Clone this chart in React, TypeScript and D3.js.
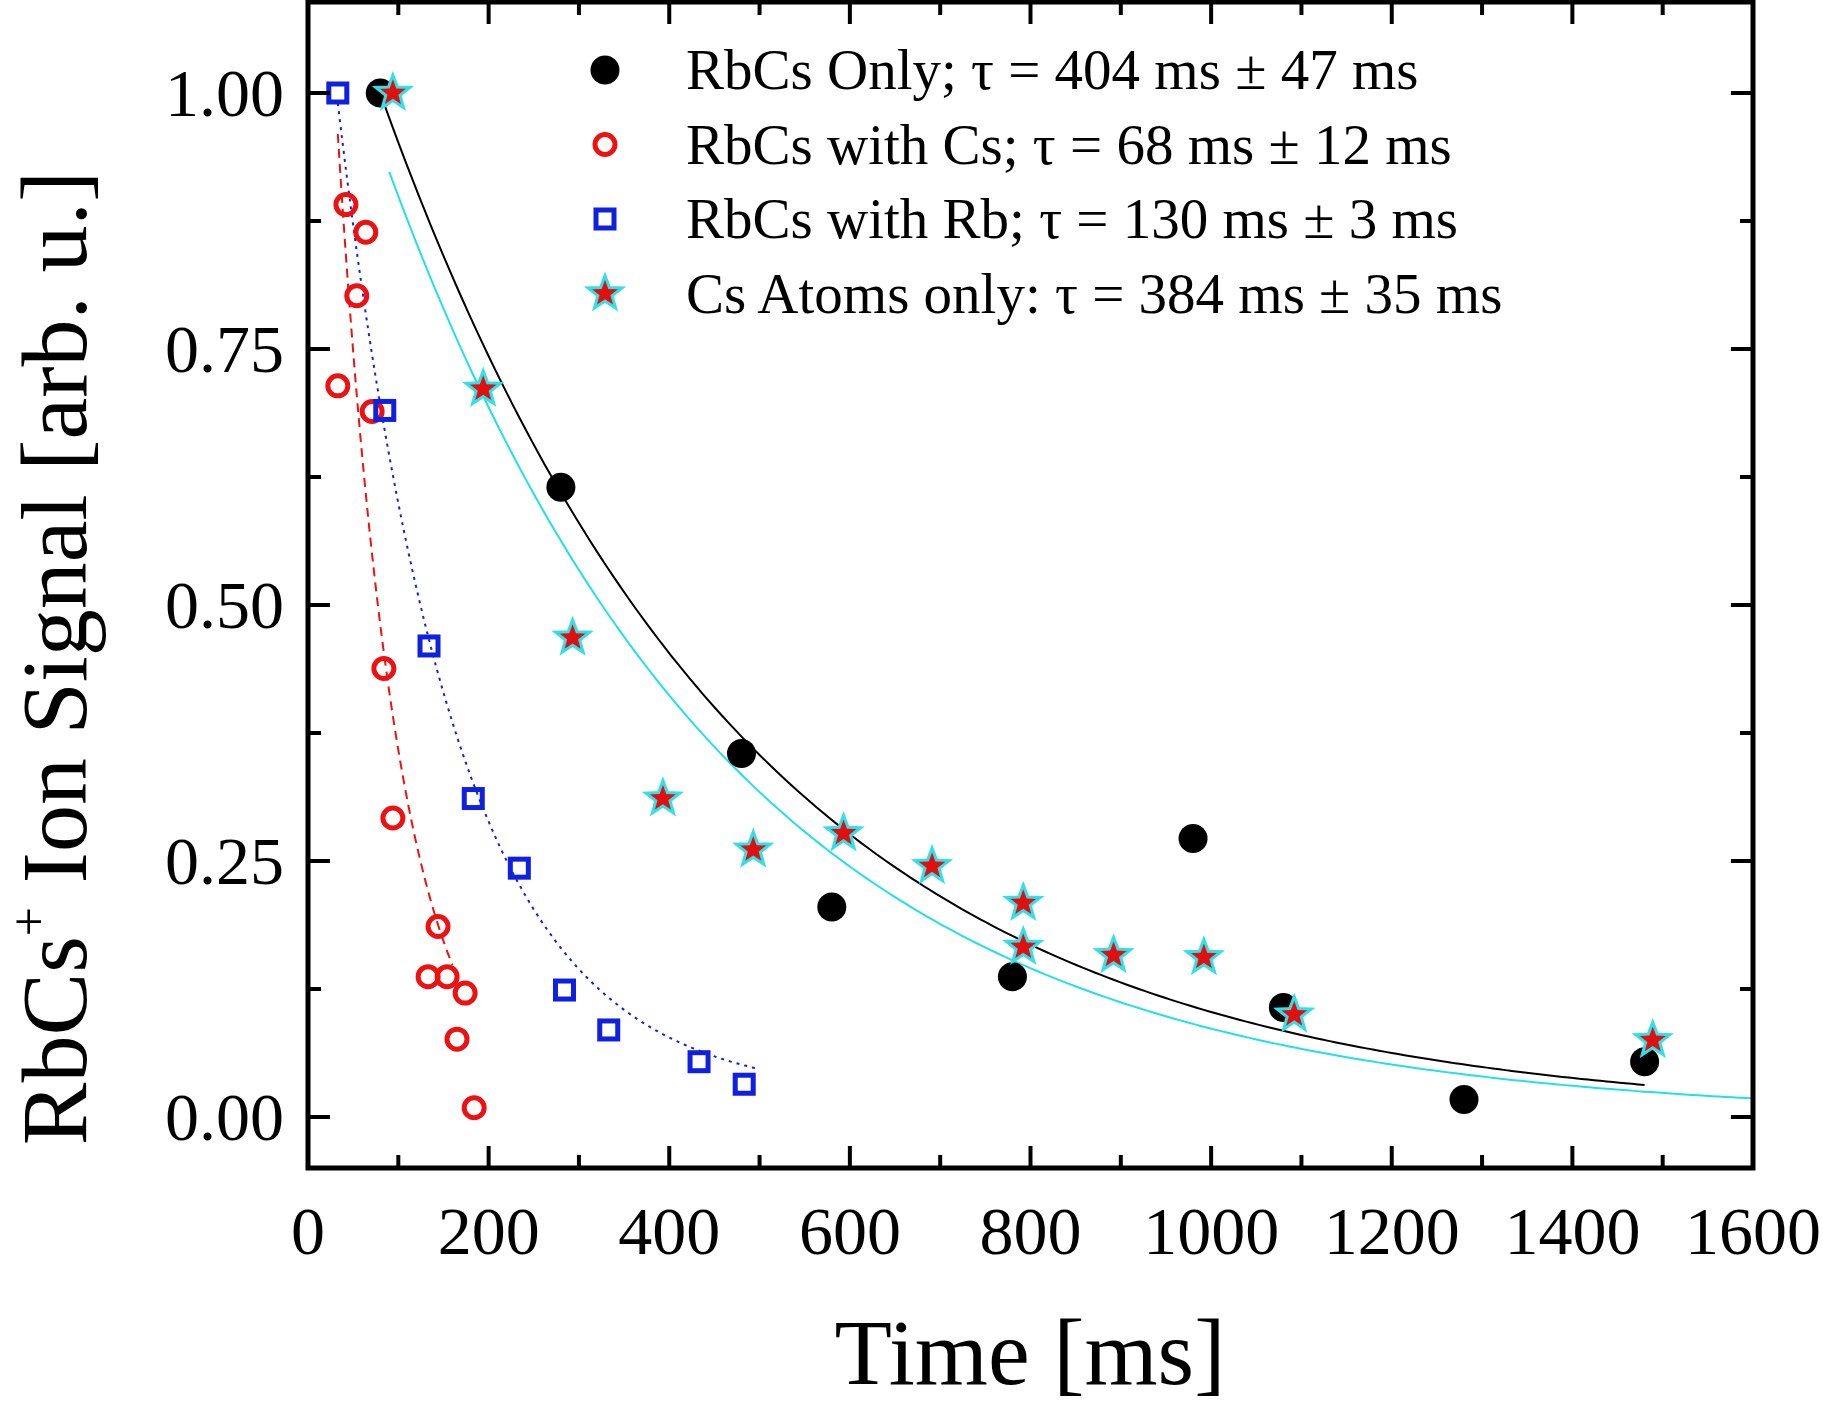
import React from "react";
import * as d3 from "d3";

const rbcsOnlyT = [80, 280, 480, 580, 780, 980, 1080, 1280, 1480];
const rbcsOnlyY = [1.0, 0.615, 0.355, 0.205, 0.137, 0.272, 0.107, 0.017, 0.054];
const withCsT = [33, 42, 64, 54, 71, 84, 94, 144, 133, 154, 174, 165, 184];
const withCsY = [0.714, 0.891, 0.864, 0.802, 0.689, 0.438, 0.292, 0.186, 0.137, 0.137, 0.121, 0.076, 0.009];
const withRbT = [33, 85, 134, 183, 234, 284, 333, 433, 483];
const withRbY = [1.0, 0.69, 0.46, 0.311, 0.243, 0.124, 0.085, 0.054, 0.032];
const csT = [94, 194, 293, 393, 493, 593, 691, 792, 792, 892, 992, 1092, 1489];
const csY = [1.0, 0.711, 0.468, 0.311, 0.261, 0.277, 0.245, 0.209, 0.166, 0.158, 0.156, 0.1, 0.075];

// fit curves: [t0, t1, amplitude, tau, offset]
const fitBlack = [80, 1480, 1.0, 404, 0];
const fitCyan = [90, 1600, 0.923, 384, 0];
const fitRed = [33, 160, 0.96, 68, 0];
const fitBlue = [33, 500, 0.97, 130, 0.02];

const xTicks = [0, 200, 400, 600, 800, 1000, 1200, 1400, 1600];
const yTicks = [0, 0.25, 0.5, 0.75, 1.0];
const legendLabels = [
  "RbCs Only; τ = 404 ms ± 47 ms",
  "RbCs with Cs; τ = 68 ms ± 12 ms",
  "RbCs with Rb; τ = 130 ms ± 3 ms",
  "Cs Atoms only: τ = 384 ms ± 35 ms",
];

const L = 308, R = 1753, T = 2, B = 1168;
const x = d3.scaleLinear().domain([0, 1600]).range([L, R]);
const y = d3.scaleLinear().domain([0, 1]).range([1117, 93]);
const FONT = "'Liberation Serif', 'Times New Roman', serif";

function fitPath(f: number[]) {
  const [t0, t1, a, tau, c] = f;
  const pts = d3.range(t0, t1 + 0.1, (t1 - t0) / 200).map((t) => [t, a * Math.exp(-(t - t0) / tau) + c]);
  return d3.line<number[]>().x((d) => x(d[0])).y((d) => y(d[1]))(pts) || "";
}

const starPath = (() => {
  const pts: [number, number][] = [];
  for (let i = 0; i < 10; i++) {
    const r = i % 2 === 0 ? 18 : 7.5;
    const a = (Math.PI / 5) * i - Math.PI / 2;
    pts.push([r * Math.cos(a), r * Math.sin(a)]);
  }
  return "M" + pts.map((p) => p.join(",")).join("L") + "Z";
})();

const Circle = ({ cx, cy }: any) => <circle cx={cx} cy={cy} r={14.5} fill="black" />;
const Ring = ({ cx, cy }: any) => <circle cx={cx} cy={cy} r={10} fill="none" stroke="#ee1111" strokeWidth={5} />;
const Square = ({ cx, cy }: any) => <rect x={cx - 9} y={cy - 9} width={18} height={18} fill="none" stroke="#1020e0" strokeWidth={5} />;
const Star = ({ cx, cy }: any) => <path d={starPath} transform={`translate(${cx},${cy})`} fill="#e01010" stroke="#33e0e8" strokeWidth={3} />;

export default function App() {
  const minorX = d3.range(100, 1600, 200);
  const minorY = d3.range(0.125, 1.1, 0.25);
  return (
    <svg width={1823} height={1402} style={{ position: "absolute", left: 0, top: 0, background: "white" }} fontFamily={FONT}>
      <path d={fitPath(fitBlack)} fill="none" stroke="black" strokeWidth={2} />
      <path d={fitPath(fitCyan)} fill="none" stroke="#22e0e8" strokeWidth={2} />
      <path d={fitPath(fitRed)} fill="none" stroke="#ee1111" strokeWidth={2} strokeDasharray="9,6" />
      <path d={fitPath(fitBlue)} fill="none" stroke="#1020e0" strokeWidth={2} strokeDasharray="3,5" />
      {rbcsOnlyT.map((t, i) => <Circle key={"a" + i} cx={x(t)} cy={y(rbcsOnlyY[i])} />)}
      {withCsT.map((t, i) => <Ring key={"b" + i} cx={x(t)} cy={y(withCsY[i])} />)}
      {withRbT.map((t, i) => <Square key={"c" + i} cx={x(t)} cy={y(withRbY[i])} />)}
      {csT.map((t, i) => <Star key={"d" + i} cx={x(t)} cy={y(csY[i])} />)}
      <rect x={L} y={T} width={R - L} height={B - T} fill="none" stroke="black" strokeWidth={5} />
      {xTicks.map((t) => (
        <g key={"xt" + t}>
          <line x1={x(t)} x2={x(t)} y1={B} y2={B - 22} stroke="black" strokeWidth={4} />
          <line x1={x(t)} x2={x(t)} y1={T} y2={T + 22} stroke="black" strokeWidth={4} />
          <text x={x(t)} y={1254} textAnchor="middle" fontSize={68}>{t}</text>
        </g>
      ))}
      {minorX.map((t) => (
        <g key={"xm" + t}>
          <line x1={x(t)} x2={x(t)} y1={B} y2={B - 13} stroke="black" strokeWidth={4} />
          <line x1={x(t)} x2={x(t)} y1={T} y2={T + 13} stroke="black" strokeWidth={4} />
        </g>
      ))}
      {yTicks.map((v) => (
        <g key={"yt" + v}>
          <line x1={L} x2={L + 22} y1={y(v)} y2={y(v)} stroke="black" strokeWidth={4} />
          <line x1={R} x2={R - 22} y1={y(v)} y2={y(v)} stroke="black" strokeWidth={4} />
          <text x={284} y={y(v) + 23} textAnchor="end" fontSize={68}>{v.toFixed(2)}</text>
        </g>
      ))}
      {minorY.map((v) => (
        <g key={"ym" + v}>
          <line x1={L} x2={L + 13} y1={y(v)} y2={y(v)} stroke="black" strokeWidth={4} />
          <line x1={R} x2={R - 13} y1={y(v)} y2={y(v)} stroke="black" strokeWidth={4} />
        </g>
      ))}
      {legendLabels.map((lab, i) => {
        const cy = 70 + i * 74.5;
        const cx = 605;
        return (
          <g key={"lg" + i}>
            {i === 0 && <Circle cx={cx} cy={cy} />}
            {i === 1 && <Ring cx={cx} cy={cy} />}
            {i === 2 && <Square cx={cx} cy={cy} />}
            {i === 3 && <Star cx={cx} cy={cy} />}
            <text x={686} y={cy + 19} fontSize={57}>{lab}</text>
          </g>
        );
      })}
      <text x={1030} y={1384} textAnchor="middle" fontSize={94}>Time [ms]</text>
      <text transform="translate(86,658) rotate(-90)" textAnchor="middle" fontSize={94}>
        RbCs<tspan dy={-40} fontSize={52}>+</tspan><tspan dy={40}> Ion Signal [arb. u.]</tspan>
      </text>
    </svg>
  );
}
